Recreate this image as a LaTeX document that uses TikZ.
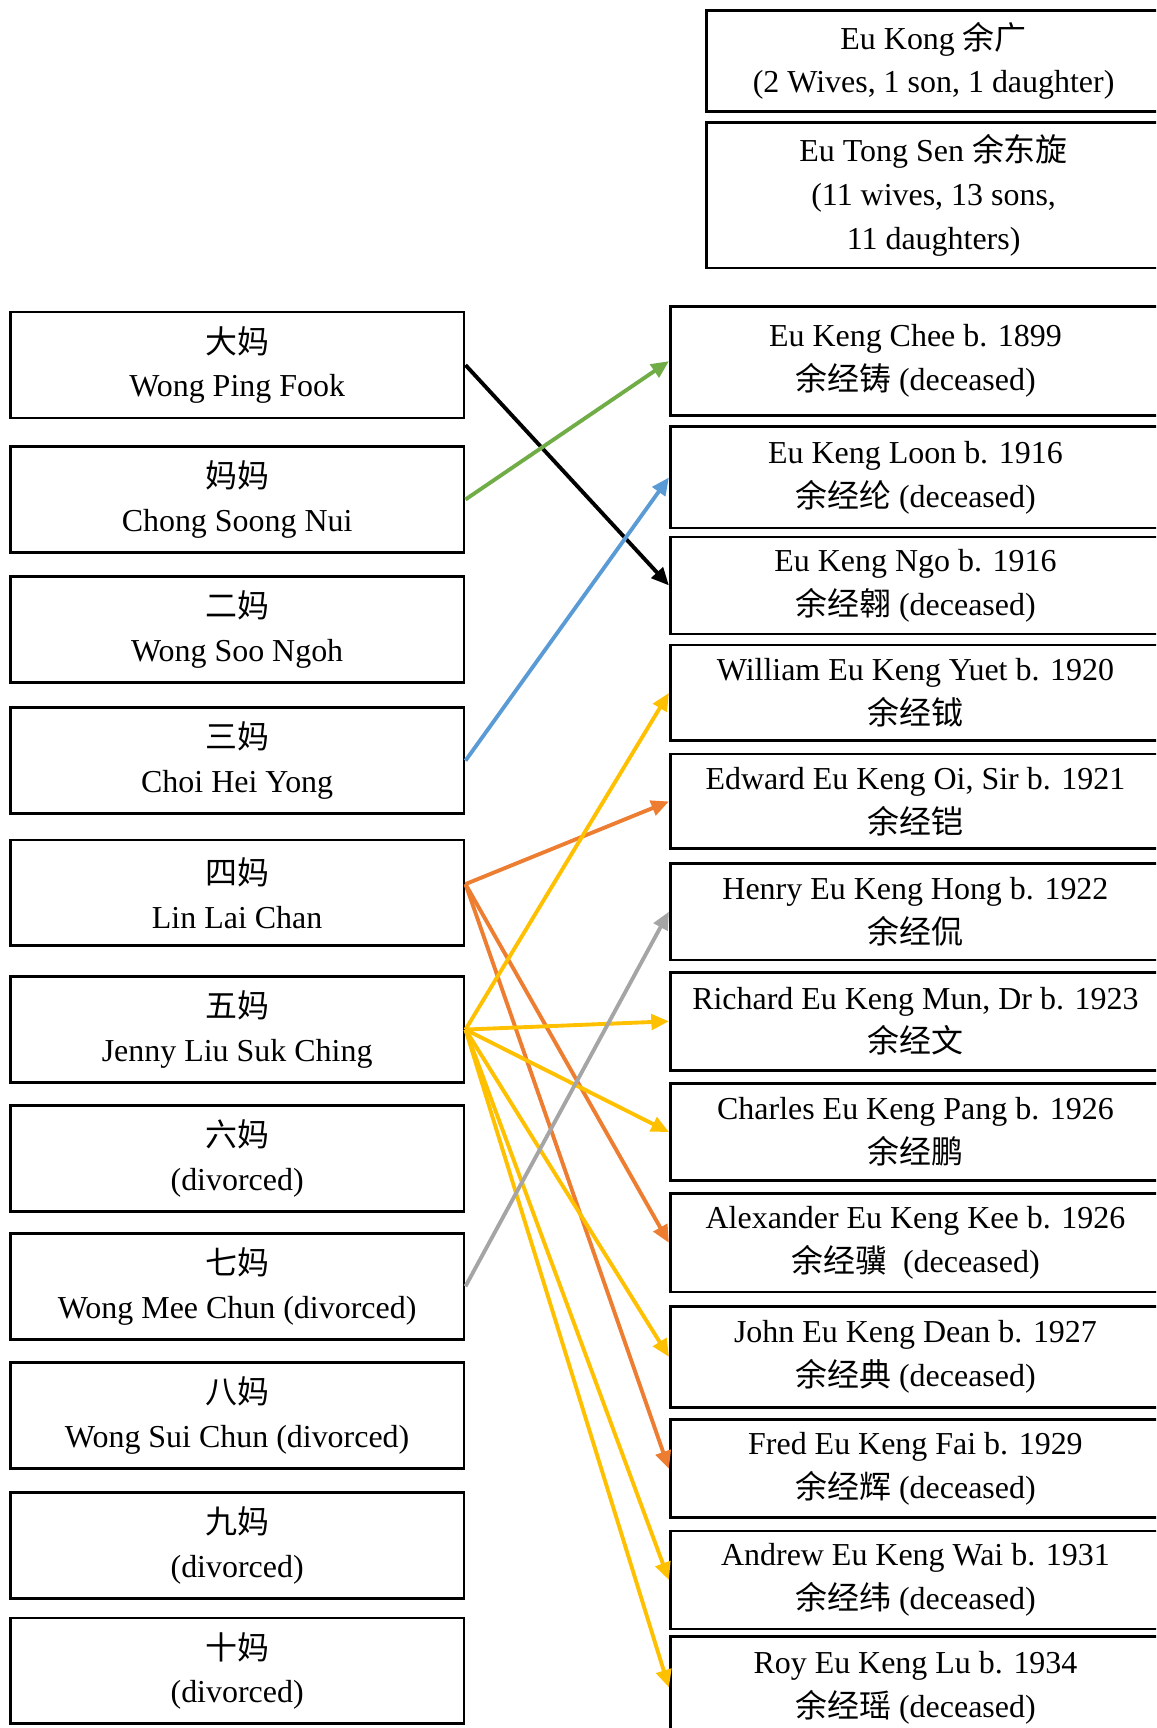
\documentclass[tikz,border=0pt]{standalone}
\usepackage{fontspec}
\setmainfont{Liberation Serif}
\newfontfamily\cjk{Noto Sans CJK SC}
\usetikzlibrary{arrows.meta, positioning}

\definecolor{mgreen}{HTML}{70AD47}
\definecolor{mblue}{HTML}{5B9BD5}
\definecolor{morange}{HTML}{ED7D31}
\definecolor{myellow}{HTML}{FFC000}
\definecolor{mgray}{HTML}{A5A5A5}
\newcommand{\zh}[1]{{\cjk #1}}

\tikzset{
  box/.style={draw, line width=1.4pt, anchor=north west, align=center, inner sep=0pt,
    font=\fontsize{16.5}{22.6}\selectfont},
  wife/.style={box, minimum width=8.24cm, minimum height=1.92cm},
  son/.style={box, minimum width=8.9cm, minimum height=#1*0.02cm},
  link/.style={line width=2pt, -{Triangle[length=0.32cm, width=0.28cm]}}
}

\begin{document}
\begin{tikzpicture}[x=0.02cm, y=-0.02cm]
\useasboundingbox (0,0) rectangle (1049,1568);
\clip (0,0) rectangle (1049,1568);

% Father and grandfather
\node[wife, minimum height=1.84cm] (kong) at (640,8) {Eu Kong \zh{余广}\\(2 Wives, 1 son, 1 daughter)};
\node[wife, minimum height=2.64cm] (tongsen) at (640,110) {Eu Tong Sen \zh{余东旋}\\(11 wives, 13 sons,\\11 daughters)};

% Wives
\node[wife] (w1) at (8,282) {\zh{大妈}\\Wong Ping Fook};
\node[wife] (w2) at (8,404) {\zh{妈妈}\\Chong Soong Nui};
\node[wife] (w3) at (8,522) {\zh{二妈}\\Wong Soo Ngoh};
\node[wife] (w4) at (8,641) {\zh{三妈}\\Choi Hei Yong};
\node[wife] (w5) at (8,761) {\zh{四妈}\\Lin Lai Chan};
\node[wife] (w6) at (8,885) {\zh{五妈}\\Jenny Liu Suk Ching};
\node[wife] (w7) at (8,1002) {\zh{六妈}\\(divorced)};
\node[wife] (w8) at (8,1118) {\zh{七妈}\\Wong Mee Chun (divorced)};
\node[wife] (w9) at (8,1235) {\zh{八妈}\\Wong Sui Chun (divorced)};
\node[wife] (w10) at (8,1353) {\zh{九妈}\\(divorced)};
\node[wife] (w11) at (8,1467) {\zh{十妈}\\(divorced)};

% Sons
\node[son=99] (s1) at (607,277) {Eu Keng Chee b. 1899\\\zh{余经铸} (deceased)};
\node[son=92] (s2) at (607,386) {Eu Keng Loon b. 1916\\\zh{余经纶} (deceased)};
\node[son=88] (s3) at (607,486) {Eu Keng Ngo b. 1916\\\zh{余经翱} (deceased)};
\node[son=87] (s4) at (607,584) {William Eu Keng Yuet b. 1920\\\zh{余经钺}};
\node[son=86] (s5) at (607,683) {Edward Eu Keng Oi, Sir b. 1921\\\zh{余经铠}};
\node[son=88] (s6) at (607,782) {Henry Eu Keng Hong b. 1922\\\zh{余经侃}};
\node[son=89] (s7) at (607,881) {Richard Eu Keng Mun, Dr b. 1923\\\zh{余经文}};
\node[son=88] (s8) at (607,982) {Charles Eu Keng Pang b. 1926\\\zh{余经鹏}};
\node[son=89] (s9) at (607,1082) {Alexander Eu Keng Kee b. 1926\\\zh{余经骥}\ \ (deceased)};
\node[son=92] (s10) at (607,1184) {John Eu Keng Dean b. 1927\\\zh{余经典} (deceased)};
\node[son=89] (s11) at (607,1287) {Fred Eu Keng Fai b. 1929\\\zh{余经辉} (deceased)};
\node[son=89] (s12) at (607,1388) {Andrew Eu Keng Wai b. 1931\\\zh{余经纬} (deceased)};
\node[son=92] (s13) at (607,1484) {Roy Eu Keng Lu b. 1934\\\zh{余经瑶} (deceased)};

% Mother to son
\draw[link, black] (w1.east) -- (s3.west);
\draw[link, mgreen] (w2.east) -- (s1.west);
\draw[link, mblue] (w4.east) -- (s2.west);
\foreach \s in {s5,s9,s11}
    \draw[link, morange] ([yshift=0.16cm]w5.east) -- (\s.west);
\foreach \s in {s4,s7,s8,s10,s12,s13}
    \draw[link, myellow] (w6.east) -- (\s.west);
\draw[link, mgray] (w8.east) -- (s6.west);
\end{tikzpicture}
\end{document}
